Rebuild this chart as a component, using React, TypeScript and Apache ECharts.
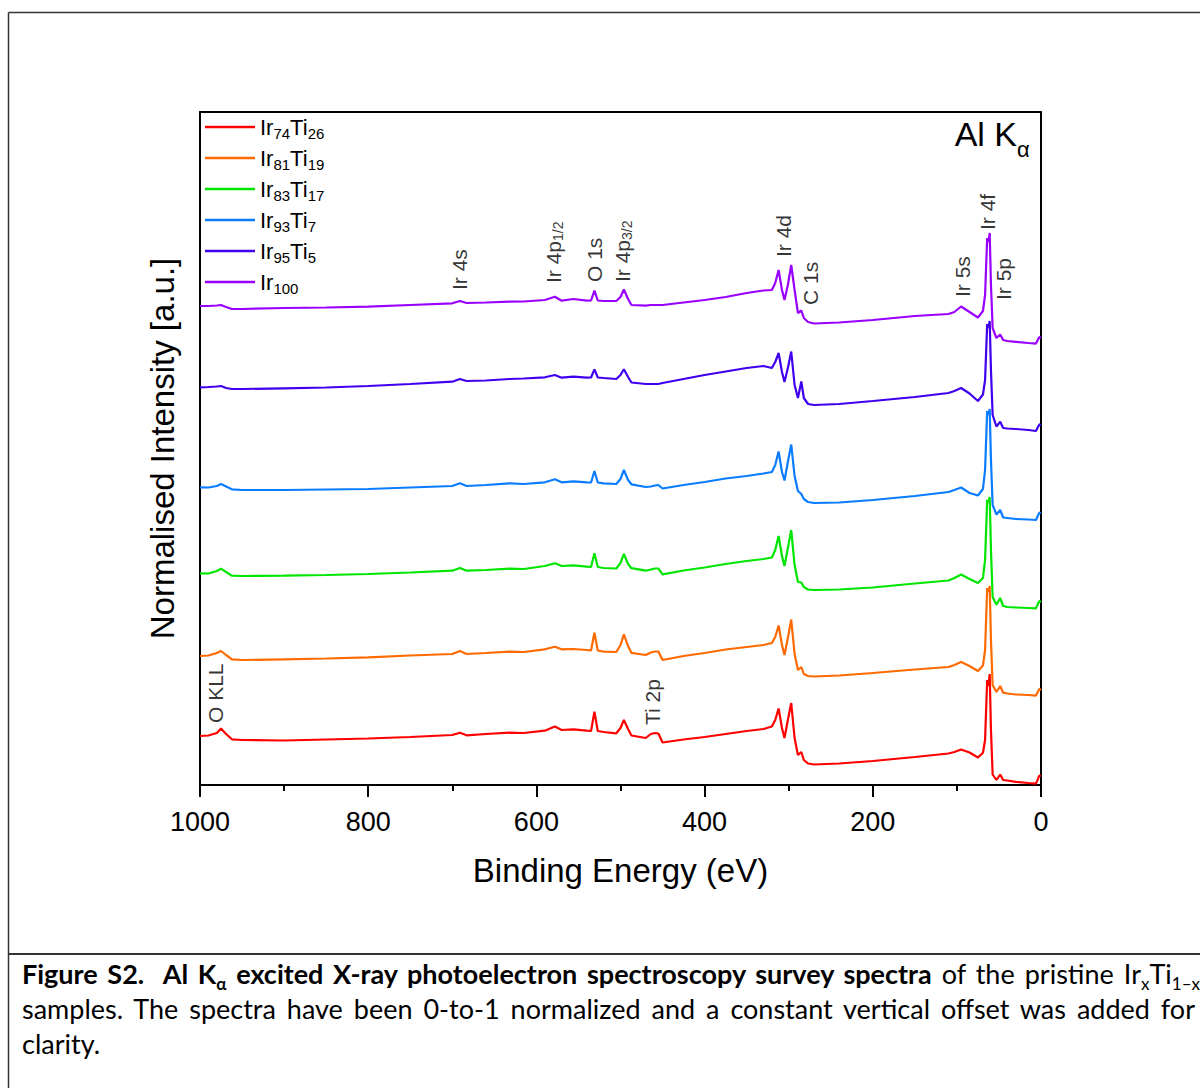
import React, { useEffect, useRef } from "react";
import * as echarts from "echarts";

const FONT = "'Liberation Sans', Arial, Helvetica, sans-serif";

// Binding energy grid (eV) shared by all spectra
const energies = [
  1000, 990, 980, 975, 969, 962, 950, 900, 850, 800,
  750, 700, 691, 683, 660, 632, 615, 590, 578, 570,
  556, 540, 535, 531, 527, 520, 505, 500, 496, 491,
  487, 470, 464, 459, 455, 450, 425, 400, 375, 350,
  330, 320, 316, 312, 308, 305, 301, 297, 293, 289,
  285, 282, 277, 270, 240, 200, 150, 110, 103, 95,
  85, 75, 69, 66.5, 64, 62.5, 61, 59.5, 57.5, 53,
  48.5, 45, 40, 30, 15, 6, 2, 0,
];

// Normalised intensity (with offset), arbitrary units
const ir74Ti26 = [
  49, 49.5, 52, 56.5, 51, 45.7, 45, 44.5, 45.5, 46.5,
  48, 50, 52.3, 49.7, 51, 52.3, 52, 54.3, 58.5, 55,
  55.7, 54.3, 54, 73.3, 54, 53, 51.7, 57, 65, 56,
  49.5, 47, 51, 52, 51.5, 42.5, 45.5, 48, 51, 54,
  56, 58.5, 65, 76.5, 57, 47, 65, 82, 47, 30,
  33, 25, 21.5, 20.5, 21.5, 24, 28, 31.5, 33, 35.5,
  32.5, 27.5, 32.3, 45, 105, 99, 111, 55, 10.5, 5,
  10.5, 5, 4.5, 3.2, 2, 1.4, 9.4, 9,
];
const ir81Ti19 = [
  129, 129.5, 132, 134, 130, 125.7, 125, 125.7, 126.5, 127.7,
  129.5, 131, 134, 131, 132, 133.3, 133, 135.7, 138.3, 135.7,
  136, 135, 134.5, 152.3, 134.5, 133.3, 133, 140, 150.7, 139,
  132.1, 130, 132.5, 133.5, 133.5, 125, 129, 132, 135.5, 138,
  140, 142, 148, 159.5, 140, 130, 147, 165.5, 131, 115,
  118, 111, 109, 108.5, 109.5, 112, 115.5, 118, 120, 123,
  119, 114, 119.5, 135, 197, 193, 199, 145, 100, 93,
  99, 92.3, 91.5, 90.5, 90, 89.4, 96, 95,
];
const ir83Ti17 = [
  211.7, 211.5, 214, 216.3, 213, 209.3, 209, 209.3, 210, 211,
  212.5, 214.3, 217, 214.3, 215, 216.3, 216, 219, 221.7, 219,
  219.7, 218.3, 218, 231.7, 218, 217, 216.5, 222, 231, 221,
  216.8, 214.3, 215.5, 216.5, 216.5, 210.7, 214.5, 217.5, 221, 224,
  226, 227.5, 235, 249, 229, 219, 237, 255, 220, 203,
  202.5, 198, 195.5, 195, 195.5, 197.5, 201.5, 204.5, 207, 210.5,
  206, 202, 207, 225, 285, 283, 288, 235, 188, 180.3,
  187, 179, 178, 177.5, 177, 176.6, 184, 183,
];
const ir93Ti7 = [
  297.7, 297.5, 299, 301, 298.5, 295.7, 295, 295, 295.5, 296,
  297.5, 299, 301.7, 299, 300, 301.7, 301, 302.7, 305.7, 302.7,
  303.7, 302.7, 302.5, 314, 302.5, 301.7, 301, 306, 315, 305,
  300.7, 298, 298.5, 299.5, 300, 296.5, 300, 303, 306.5, 309,
  311.5, 313, 320, 333.5, 313, 304.5, 323, 340.5, 309, 294,
  291, 286, 283, 282, 282.5, 285, 289, 293, 295, 297.5,
  292, 289.5, 296, 315, 374, 370, 376, 325, 280, 270.5,
  275, 267.5, 267, 266, 265.5, 265, 272.3, 272,
];
const ir95Ti5 = [
  397.7, 398, 398.5, 399, 397, 396, 396, 396.7, 397.5, 399,
  401, 403.3, 406, 404, 404.5, 406, 406.5, 407.7, 410, 407.3,
  408.3, 407.3, 407.5, 415.7, 407.5, 407, 406, 410, 415.7, 408,
  402.5, 401, 401, 401, 401, 402, 406, 410, 413.5, 417,
  419, 417, 423, 432, 413, 403, 417, 433.5, 400, 387,
  403.5, 387, 381, 380, 381, 384, 388, 392, 394, 397,
  391.5, 384, 390.5, 405, 461, 457, 464, 415, 370, 358.5,
  363.2, 357, 356.5, 356, 355, 354, 360.6, 360,
];
const ir100 = [
  479, 479, 479.5, 480, 478, 476, 476, 477, 477.5, 478.3,
  480, 481.7, 484, 482, 482.5, 483.3, 483.5, 485, 488.3, 484.3,
  486, 484.3, 484.5, 494.3, 484.5, 484, 484, 488, 495.5, 486,
  480, 479.3, 480, 480, 480, 480, 482.5, 485, 488, 492,
  494.5, 495, 502, 515, 495, 485, 500, 520, 495, 472,
  474.5, 467, 463, 461.5, 462.5, 465, 469, 471, 473, 478.5,
  473, 467.5, 474, 490, 547, 543, 552, 500, 457, 447,
  450.5, 445, 444, 443.2, 442, 441.4, 448, 447,
];

const seriesNames = ["Ir74Ti26", "Ir81Ti19", "Ir83Ti17", "Ir93Ti7", "Ir95Ti5", "Ir100"];
const seriesValues = [ir74Ti26, ir81Ti19, ir83Ti17, ir93Ti7, ir95Ti5, ir100];
const seriesColors = ["#ff0000", "#ff6a00", "#00e600", "#0a7cff", "#4000f0", "#9a00ff"];
const legendLabels = [
  "Ir{s|74}Ti{s|26}",
  "Ir{s|81}Ti{s|19}",
  "Ir{s|83}Ti{s|17}",
  "Ir{s|93}Ti{s|7}",
  "Ir{s|95}Ti{s|5}",
  "Ir{s|100}",
];

// Peak annotations: text, energy (eV), intensity at text start
const peakLabels = ["O KLL", "Ti 2p", "Ir 4s", "Ir 4p{s|1/2}", "O 1s", "Ir 4p{s|3/2}", "Ir 4d", "C 1s", "Ir 5s", "Ir 4f", "Ir 5p"];
const peakEnergies = [982, 462.5, 691.4, 580, 531, 498, 305.6, 274, 93.3, 63.6, 44.6];
const peakLabelBases = [62, 60, 495, 502, 503, 503, 528, 480, 488, 555, 485];

const xMin = 0;
const xMax = 1000;
const xInterval = 200;
const yMin = 0;
const yMax = 673;

function buildOption() {
  const axisLineStyle = { color: "#000", width: 2 };
  const lineSeries = seriesNames.map((name, i) => ({
    type: "line",
    name,
    data: energies.map((e, j) => [e, seriesValues[i][j]]),
    showSymbol: false,
    symbol: "none",
    silent: true,
    z: 2 + i,
    lineStyle: { color: seriesColors[i], width: 2.2 },
    itemStyle: { color: seriesColors[i] },
  }));
  const labelSeries = {
    type: "scatter",
    name: "peaks",
    silent: true,
    symbolSize: 1,
    z: 20,
    itemStyle: { color: "rgba(0,0,0,0)" },
    data: peakLabels.map((t, i) => ({
      value: [peakEnergies[i], peakLabelBases[i]],
      label: { formatter: t },
    })),
    label: {
      show: true,
      position: "inside",
      rotate: 90,
      align: "left",
      verticalAlign: "middle",
      fontFamily: FONT,
      fontSize: 21,
      lineHeight: 24,
      color: "#000",
      rich: {
        s: { fontFamily: FONT, fontSize: 14, lineHeight: 14, verticalAlign: "bottom", color: "#000" },
      },
    },
  };
  return {
    animation: false,
    backgroundColor: "#fff",
    grid: { left: 200, right: 159, top: 112, bottom: 303, containLabel: false },
    legend: {
      orient: "vertical",
      left: 200,
      top: 108,
      itemWidth: 50,
      itemHeight: 2.5,
      itemGap: 3,
      icon: "rect",
      selectedMode: false,
      data: seriesNames,
      formatter: (name: string) => legendLabels[seriesNames.indexOf(name)],
      textStyle: {
        fontFamily: FONT,
        fontSize: 22,
        lineHeight: 28,
        color: "#000",
        rich: {
          s: { fontFamily: FONT, fontSize: 15, lineHeight: 16, verticalAlign: "bottom", color: "#000" },
        },
      },
    },
    xAxis: [
      {
        type: "value",
        min: xMin,
        max: xMax,
        interval: xInterval,
        inverse: true,
        name: "Binding Energy (eV)",
        nameLocation: "middle",
        nameGap: 69,
        nameTextStyle: { fontFamily: FONT, fontSize: 33, color: "#000" },
        axisLine: { show: true, onZero: false, lineStyle: axisLineStyle },
        axisTick: { show: true, length: 12, lineStyle: { color: "#000", width: 2 } },
        minorTick: { show: true, splitNumber: 2, length: 6, lineStyle: { color: "#000", width: 2 } },
        axisLabel: {
          fontFamily: FONT,
          fontSize: 27,
          color: "#000",
          margin: 23,
          formatter: (v: number) => String(v),
        },
        splitLine: { show: false },
        minorSplitLine: { show: false },
      },
      {
        type: "value",
        position: "top",
        min: xMin,
        max: xMax,
        inverse: true,
        axisLine: { show: true, onZero: false, lineStyle: axisLineStyle },
        axisTick: { show: false },
        axisLabel: { show: false },
        splitLine: { show: false },
      },
    ],
    yAxis: [
      {
        type: "value",
        min: yMin,
        max: yMax,
        name: "Normalised Intensity [a.u.]",
        nameLocation: "middle",
        nameGap: 21,
        nameTextStyle: { fontFamily: FONT, fontSize: 33, color: "#000" },
        axisLine: { show: true, onZero: false, lineStyle: axisLineStyle },
        axisTick: { show: false },
        axisLabel: { show: false },
        splitLine: { show: false },
      },
      {
        type: "value",
        position: "right",
        min: yMin,
        max: yMax,
        axisLine: { show: true, onZero: false, lineStyle: axisLineStyle },
        axisTick: { show: false },
        axisLabel: { show: false },
        splitLine: { show: false },
      },
    ],
    graphic: [
      { type: "line", silent: true, shape: { x1: 8.5, y1: 12.5, x2: 1200, y2: 12.5 }, style: { stroke: "#333", lineWidth: 1.5 } },
      { type: "line", silent: true, shape: { x1: 8.5, y1: 12.5, x2: 8.5, y2: 1088 }, style: { stroke: "#333", lineWidth: 1.5 } },
      { type: "line", silent: true, shape: { x1: 8.5, y1: 954, x2: 1200, y2: 954 }, style: { stroke: "#333", lineWidth: 2 } },
      {
        type: "text",
        silent: true,
        x: 1017,
        y: 134,
        style: { text: "Al K", align: "right", verticalAlign: "middle", fill: "#000", fontFamily: FONT, fontSize: 34 },
      },
      {
        type: "text",
        silent: true,
        x: 1017,
        y: 149,
        style: { text: "α", align: "left", verticalAlign: "middle", fill: "#000", fontFamily: FONT, fontSize: 22 },
      },
    ],
    series: [...lineSeries, labelSeries],
  };
}

export default function App() {
  const ref = useRef<HTMLDivElement>(null);
  useEffect(() => {
    if (!ref.current) return;
    const chart = echarts.init(ref.current, null, { renderer: "svg" });
    chart.setOption(buildOption() as any);
    return () => chart.dispose();
  }, []);
  const sub: React.CSSProperties = { fontSize: 17, position: "relative", top: 6, lineHeight: 0 };
  return (
    <div style={{ position: "absolute", left: 0, top: 0, width: 1200, height: 1088, overflow: "hidden", background: "#fff" }}>
      <div ref={ref} style={{ position: "absolute", left: 0, top: 0, width: 1200, height: 1088 }} />
      <div
        style={{
          position: "absolute",
          left: 22,
          top: 956,
          width: 1190,
          fontFamily: "Lato, 'Open Sans', sans-serif",
          fontSize: 27,
          lineHeight: "35px",
          color: "#000",
        }}
      >
        <div style={{ width: 1178, textAlign: "justify", textAlignLast: "justify" }}>
          <b>
            Figure S2.&nbsp; Al K<span style={sub}>α</span> excited X-ray photoelectron spectroscopy survey spectra
          </b>{" "}
          of the pristine Ir<span style={sub}>x</span>Ti<span style={sub}>1–x</span>
        </div>
        <div style={{ width: 1173, textAlign: "justify", textAlignLast: "justify" }}>
          samples. The spectra have been 0-to-1 normalized and a constant vertical offset was added for
        </div>
        <div>clarity.</div>
      </div>
    </div>
  );
}
